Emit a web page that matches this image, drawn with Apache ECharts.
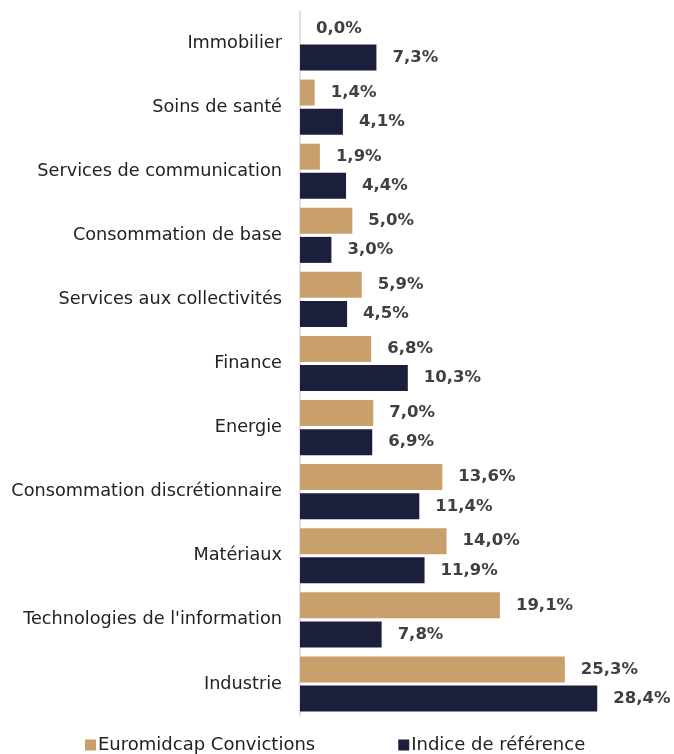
<!DOCTYPE html>
<html><head><meta charset="utf-8">
<script src="https://cdn.jsdelivr.net/npm/echarts@6/dist/echarts.min.js"></script>
<style>html,body{margin:0;padding:0;background:#fff}#c{width:674px;height:754px}</style>
</head><body><div id="c"></div>
<script>
const categories = ["Immobilier","Soins de santé","Services de communication","Consommation de base","Services aux collectivités","Finance","Energie","Consommation discrétionnaire","Matériaux","Technologies de l'information","Industrie"];
const fundValues = [0.0,1.4,1.9,5.0,5.9,6.8,7.0,13.6,14.0,19.1,25.3];
const indexValues = [7.3,4.1,4.4,3.0,4.5,10.3,6.9,11.4,11.9,7.8,28.4];
const seriesNames = ["Euromidcap Convictions","Indice de référence"];
const FONT = "'DejaVu Sans', sans-serif";
const chart = echarts.init(document.getElementById('c'));
const lbl = {show:true,position:'right',distance:16,color:'#404040',fontWeight:'bold',fontSize:16.5,fontFamily:FONT,
  formatter:p=>p.value.toFixed(1).replace('.',',')+'%'};
chart.setOption({
  animation:false,
  grid:{left:300,right:60,top:11,bottom:38},
  legend:{bottom:-5,left:80,itemWidth:11,itemHeight:11,itemGap:83,icon:'rect',
    textStyle:{fontSize:18,color:'#222',fontFamily:FONT,padding:[0,0,0,-3]}},
  xAxis:{type:'value',min:0,max:30,show:false},
  yAxis:{type:'category',data:categories,inverse:true,
    axisLine:{lineStyle:{color:'#d9d9d9',width:1.5}},axisTick:{show:false},
    axisLabel:{fontSize:17.7,color:'#222',fontFamily:FONT,margin:18}},
  series:[
    {name:seriesNames[0],type:'bar',data:fundValues,barWidth:26,barGap:'12%',itemStyle:{color:'#C9A06B'},label:lbl},
    {name:seriesNames[1],type:'bar',data:indexValues,barWidth:26,barGap:'12%',itemStyle:{color:'#1B1F3B'},label:lbl}
  ]
});
</script></body></html>
